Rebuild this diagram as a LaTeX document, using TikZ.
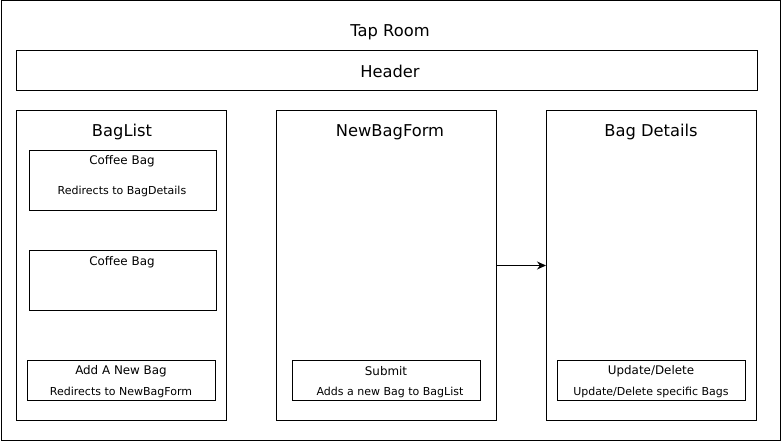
\documentclass[tikz,border=0pt]{standalone}
\usepackage{fontspec}
\setmainfont{DejaVu Sans}
\usetikzlibrary{arrows.meta}
\begin{document}
\begin{tikzpicture}[x=1pt,y=-1pt,
  box/.style={draw=black,line width=1pt,fill=white,inner sep=0pt,anchor=north west},
  big/.style={font=\fontsize{16.3}{18}\selectfont,inner sep=0pt},
  mid/.style={font=\fontsize{11.9}{14}\selectfont,inner sep=0pt},
  small/.style={font=\fontsize{11}{13}\selectfont,inner sep=0pt}]
\useasboundingbox (0,0) rectangle (781,441);
\node[box,minimum width=779pt,minimum height=439pt] (outer) at (0.5,0.5) {};
\node[big] (title) at (390,32) {Tap Room};
\node[box,minimum width=741pt,minimum height=40pt] (header) at (16,50) {};
\node[big] (headertext) at (390,71.5) {Header};
% BagList
\node[box,minimum width=210pt,minimum height=310pt] (baglist) at (16,110) {};
\node[big] (bltitle) at (122,132.5) {BagList};
\node[box,minimum width=187pt,minimum height=60pt] (cb1) at (29,150) {};
\node[mid] (cb1t) at (122,161.5) {Coffee Bag};
\node[small] (cb1s) at (122,191.5) {Redirects to BagDetails};
\node[box,minimum width=187pt,minimum height=60pt] (cb2) at (29,250) {};
\node[mid] (cb2t) at (122,262.5) {Coffee Bag};
\node[box,minimum width=188pt,minimum height=40pt] (addbag) at (27,360) {};
\node[mid] (addt) at (121,371.5) {Add A New Bag};
\node[small] (adds) at (121,392.5) {Redirects to NewBagForm};
% NewBagForm
\node[box,minimum width=220pt,minimum height=310pt] (form) at (276,110) {};
\node[big] (formt) at (390,132.5) {NewBagForm};
\node[box,minimum width=188pt,minimum height=40pt] (submit) at (292,360) {};
\node[mid] (subt) at (386,371.5) {Submit};
\node[small] (subs) at (390,392.5) {Adds a new Bag to BagList};
% Bag Details
\node[box,minimum width=210pt,minimum height=310pt] (details) at (546,110) {};
\node[big] (dett) at (651,132.5) {Bag Details};
\node[box,minimum width=188pt,minimum height=40pt] (upd) at (557,360) {};
\node[mid] (updt) at (651,371.5) {Update/Delete};
\node[small] (upds) at (651,392.5) {Update/Delete specific Bags};
% arrow
\draw[line width=1pt,-{Stealth[length=9pt,width=8pt]}] (form.east) -- (details.west);
\end{tikzpicture}
\end{document}
